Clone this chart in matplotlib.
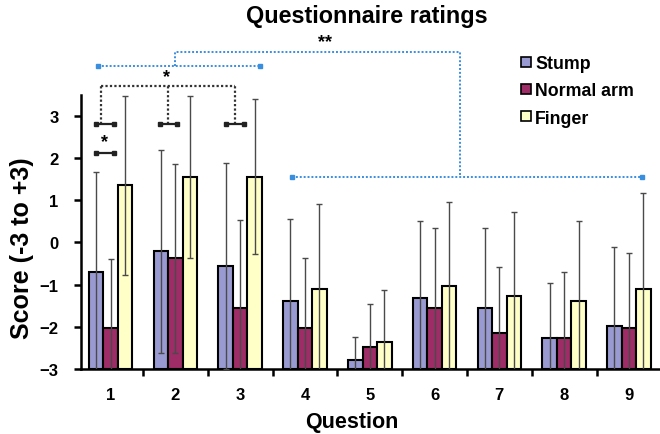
import matplotlib
matplotlib.use("Agg")
import matplotlib.pyplot as plt
import numpy as np
from matplotlib.lines import Line2D

plt.rcParams["font.family"] = ["Liberation Sans", "DejaVu Sans"]
plt.rcParams["font.weight"] = "bold"

questions = ["1", "2", "3", "4", "5", "6", "7", "8", "9"]
groups = ["Stump", "Normal arm", "Finger"]
stump = [-0.71, -0.21, -0.55, -1.38, -2.78, -1.32, -1.55, -2.27, -1.99]
normal_arm = [-2.03, -0.38, -1.55, -2.03, -2.49, -1.55, -2.14, -2.27, -2.03]
finger = [1.35, 1.56, 1.56, -1.10, -2.36, -1.04, -1.26, -1.39, -1.10]
stump_sd = [2.38, 2.40, 2.44, 1.93, 0.53, 1.83, 1.90, 1.31, 1.87]
normal_arm_sd = [1.64, 2.23, 2.08, 1.67, 1.02, 1.90, 1.55, 1.56, 1.79]
finger_sd = [2.13, 1.92, 1.84, 2.02, 1.24, 1.99, 1.98, 1.90, 2.28]

colors = ["#9a9ad2", "#9e2c66", "#ffffc8"]
blue = "#3a8ee0"

fig = plt.figure(figsize=(6.6, 4.35), dpi=100)
ax = fig.add_axes([0.1223, 0.1494, 0.8777, 0.6306])

x = np.arange(1, len(questions) + 1)
w = 0.224
series = [(stump, stump_sd), (normal_arm, normal_arm_sd), (finger, finger_sd)]
for i, ((vals, sd), col) in enumerate(zip(series, colors)):
  pos = x + (i - 1) * w
  vals = np.array(vals)
  ax.bar(pos, vals + 3, bottom=-3, width=w, color=col, edgecolor="black",
         linewidth=1.5, zorder=2)
  ax.errorbar(pos, vals, yerr=sd, fmt="none", ecolor="#4a4a4a",
              elinewidth=1.0, capsize=2.5, capthick=1.0, zorder=3)

ax.set_xlim(0.539, 9.479)
ax.set_ylim(-3, 3.5)
ax.set_yticks(range(-3, 4))
ax.set_xticks(x)
ax.set_xticklabels(questions)
ax.set_xticks(np.arange(1.5, 9, 1), minor=True)
ax.tick_params(axis="x", which="major", length=0, pad=13, labelsize=12)
ax.tick_params(axis="x", which="minor", length=5, width=1.8, direction="out")
ax.tick_params(axis="y", length=5, width=1.8, labelsize=12, pad=11)
for s in ["top", "right"]:
  ax.spines[s].set_visible(False)
for s in ["left", "bottom"]:
  ax.spines[s].set_linewidth(1.8)

# significance brackets (outside the axes)
kw = dict(clip_on=False, zorder=4)
ax.plot([0.806, 3.306], [4.18, 4.18], color=blue, ls=(0, (1, 1)), lw=1.4,
        marker="s", markersize=3.5, markevery=[0, 1], **kw)
ax.plot([1.994, 1.994, 6.392, 6.392], [4.18, 4.51, 4.51, 1.55], color=blue,
        ls=(0, (1, 1)), lw=1.4, **kw)
ax.plot([3.80, 9.20], [1.55, 1.55], color=blue, ls=(0, (1, 1)), lw=1.4,
        marker="s", markersize=3.5, markevery=[0, 1], **kw)
ax.plot([0.847, 0.847], [2.80, 3.71], color="#333333", ls=(0, (1, 1)), lw=1.6, **kw)
ax.plot([0.847, 2.92], [3.71, 3.71], color="#333333", ls=(0, (1, 1)), lw=1.6, **kw)
ax.plot([1.881, 1.881], [2.80, 3.71], color="#333333", ls=(0, (1, 1)), lw=1.6, **kw)
ax.plot([2.92, 2.92], [2.80, 3.71], color="#333333", ls=(0, (1, 1)), lw=1.6, **kw)
for x0, x1, yy in [(0.78, 1.05, 2.80), (1.76, 2.03, 2.80), (2.78, 3.06, 2.80),
                   (0.78, 1.05, 2.13)]:
  ax.plot([x0, x1], [yy, yy], color="#222222", lw=1.6, marker="s",
          markersize=3, **kw)
ax.text(1.87, 3.93, "*", ha="center", va="center", fontsize=13, **kw)
ax.text(0.90, 2.38, "*", ha="center", va="center", fontsize=13, **kw)
ax.text(4.31, 4.75, "**", ha="center", va="center", fontsize=13, **kw)

handles = [Line2D([], [], marker="s", ls="none", markersize=7,
                  markerfacecolor=c, markeredgecolor="black",
                  markeredgewidth=1.2) for c in colors]
fig.legend(handles, groups, loc="upper left",
           bbox_to_anchor=(511 / 660, 1 - 47 / 435), frameon=False,
           handlelength=0.7, handletextpad=0.15, labelspacing=0.58,
           borderpad=0, prop={"weight": "bold", "size": 12.8})

fig.text(0.556, 0.961, "Questionnaire ratings", ha="center", va="center",
         fontsize=16.8, fontweight="bold")
fig.text(0.533, 0.028, "Question", ha="center", va="center",
         fontsize=15.5, fontweight="bold")
fig.text(0.033, 0.43, "Score (-3 to +3)", ha="center", va="center",
         rotation=90, fontsize=18, fontweight="bold")

fig.savefig("out.png", dpi=100)
